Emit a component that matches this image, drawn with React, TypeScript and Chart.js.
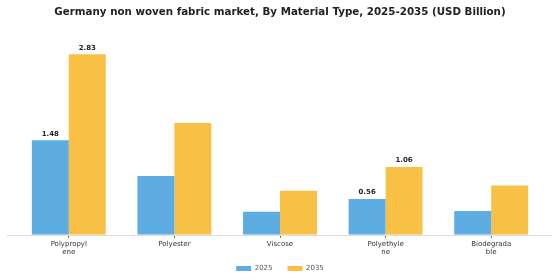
import React, { useEffect, useRef } from "react";
import { Chart, registerables } from "chart.js";

Chart.register(...registerables);

const titleText = "Germany non woven fabric market, By Material Type, 2025-2035 (USD Billion)";
const categories: string[][] = [
  ["Polypropyl", "ene"],
  ["Polyester"],
  ["Viscose"],
  ["Polyethyle", "ne"],
  ["Biodegrada", "ble"],
];
const seriesNames = ["2025", "2035"];
const values2025 = [1.48, 0.92, 0.36, 0.56, 0.37];
const values2035 = [2.83, 1.75, 0.69, 1.06, 0.77];
const labeledIndices = [0, 3];
const colors = ["#5DADE2", "#F8C146"];
const FONT = "'DejaVu Sans', Verdana, sans-serif";

const valueLabelPlugin = {
  id: "valueLabels",
  afterDatasetsDraw(chart: any) {
    const ctx = chart.ctx;
    ctx.save();
    ctx.font = `bold 7px ${FONT}`;
    ctx.fillStyle = "#222";
    ctx.textAlign = "center";
    ctx.textBaseline = "bottom";
    chart.data.datasets.forEach((ds: any, di: number) => {
      const meta = chart.getDatasetMeta(di);
      labeledIndices.forEach((i) => {
        const el = meta.data[i];
        if (!el) return;
        ctx.fillText(Number(ds.data[i]).toFixed(2), el.x, el.y - 3);
      });
    });
    ctx.restore();
  },
};

const baseLinePlugin = {
  id: "baseLine",
  beforeDatasetsDraw(chart: any) {
    const ctx = chart.ctx;
    const y = chart.scales.y.getPixelForValue(0);
    ctx.save();
    ctx.strokeStyle = "#dddddd";
    ctx.lineWidth = 1;
    ctx.beginPath();
    ctx.moveTo(chart.chartArea.left - 9, Math.round(y) + 0.5);
    ctx.lineTo(chart.chartArea.right + 8, Math.round(y) + 0.5);
    ctx.stroke();
    ctx.restore();
  },
};

const LEGEND_SHIFT = -8.5;
const legendShiftPlugin = {
  id: "legendShift",
  afterLayout(chart: any) {
    const lg = chart.legend;
    if (lg) {
      lg.top += LEGEND_SHIFT;
      lg.bottom += LEGEND_SHIFT;
    }
  },
};

export default function App() {
  const ref = useRef<HTMLCanvasElement>(null);
  useEffect(() => {
    document.body.style.margin = "0";
    const chart = new Chart(ref.current!, {
      type: "bar",
      data: {
        labels: categories,
        datasets: [
          { label: seriesNames[0], data: values2025, backgroundColor: colors[0], categoryPercentage: 0.7, barPercentage: 1.0 },
          { label: seriesNames[1], data: values2035, backgroundColor: colors[1], categoryPercentage: 0.7, barPercentage: 1.0 },
        ],
      },
      options: {
        animation: false,
        responsive: false,
        maintainAspectRatio: false,
        layout: { padding: { left: 16, right: 16, top: 0, bottom: -10.5 } },
        plugins: {
          title: {
            display: true,
            text: titleText,
            font: { family: FONT, size: 10.3, weight: "bold" },
            color: "#222",
            padding: { top: 6, bottom: 25 },
          },
          legend: {
            position: "bottom",
            labels: {
              font: { family: FONT, size: 7 },
              color: "#555",
              boxWidth: 15,
              boxHeight: 5,
              padding: 15,
            },
          },
          tooltip: { enabled: false },
        },
        scales: {
          x: {
            grid: { display: true, drawOnChartArea: false, offset: false, tickLength: 3, color: "#555" },
            border: { display: false },
            ticks: { font: { family: FONT, size: 7 }, color: "#333", padding: 2, maxRotation: 0, autoSkip: false },
          },
          y: {
            display: false,
            min: 0,
            max: 3.0,
          },
        },
      },
      plugins: [valueLabelPlugin, baseLinePlugin, legendShiftPlugin],
    });
    return () => chart.destroy();
  }, []);
  return (
    <div style={{ width: 560, height: 280 }}>
      <canvas ref={ref} width={560} height={280} style={{ width: 560, height: 280, display: "block" }} />
    </div>
  );
}
